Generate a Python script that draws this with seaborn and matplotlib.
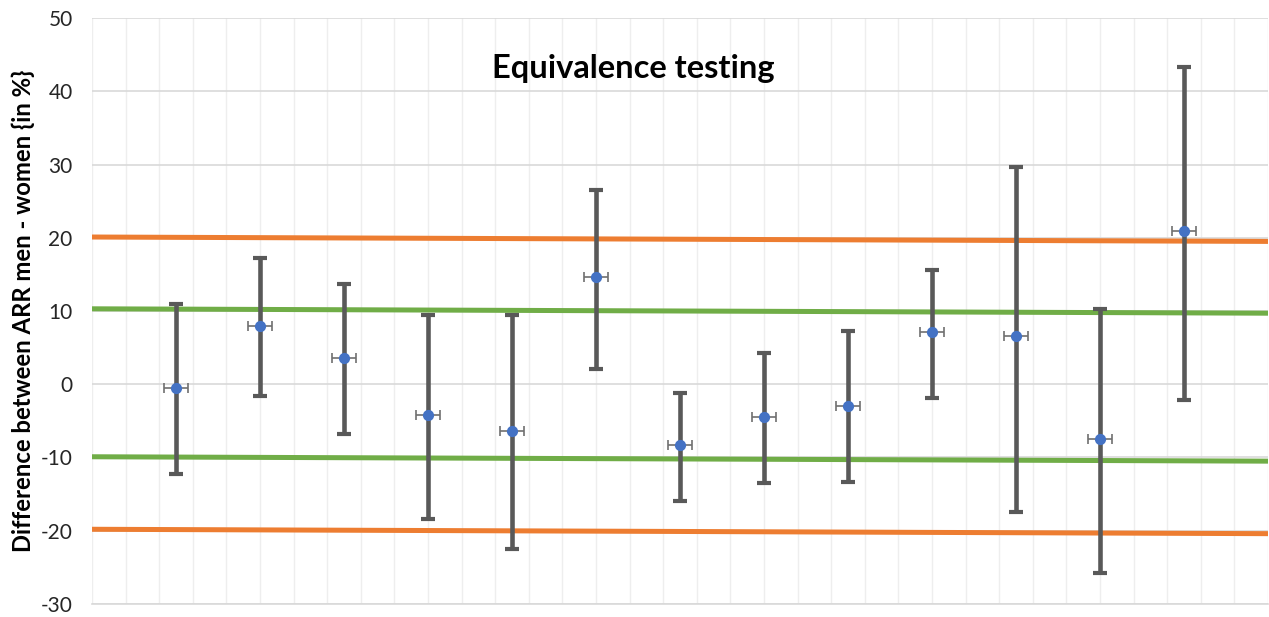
import matplotlib
matplotlib.use("Agg")
import matplotlib.pyplot as plt
import seaborn as sns
import numpy as np
import pandas as pd

# ---- data ----
positions = [2.5, 5, 7.5, 10, 12.5, 15, 17.5, 20, 22.5, 25, 27.5, 30, 32.5]
estimates = [-0.5, 8.0, 3.6, -4.2, -6.4, 14.6, -8.3, -4.5, -3.0, 7.1, 6.6, -7.5, 20.9]
ci_upper = [10.9, 17.3, 13.7, 9.5, 9.5, 26.5, -1.2, 4.3, 7.3, 15.6, 29.7, 10.3, 43.3]
ci_lower = [-12.2, -1.6, -6.8, -18.4, -22.5, 2.1, -15.9, -13.5, -13.3, -1.9, -17.4, -25.8, -2.1]
x_err = [0.35] * 13

margin_x = [0, 35]
outer_upper = [20.1, 19.5]
outer_lower = [-19.8, -20.4]
inner_upper = [10.3, 9.7]
inner_lower = [-9.9, -10.5]

yticks = [-30, -20, -10, 0, 10, 20, 30, 40, 50]

sns.set_theme(style="white")
plt.rcParams['font.family'] = ['Lato', 'DejaVu Sans']
plt.rcParams['axes.unicode_minus'] = False

fig = plt.figure(figsize=(12.69, 6.17), dpi=100)
ax = fig.add_axes([0.0725, 0.0211, 0.9267, 0.9497])

df = pd.DataFrame({"x": positions, "y": estimates,
                   "lo": ci_lower, "hi": ci_upper})

# gridlines
ax.set_xlim(0, 35)
ax.set_ylim(-30, 50)
ax.set_xticks(np.arange(0, 36, 1))
ax.set_yticks(yticks)
ax.xaxis.grid(True, color="#eeeeee", linewidth=1.0)
ax.yaxis.grid(True, color="#d9d9d9", linewidth=1.2)
ax.set_axisbelow(True)

# margin lines
lines = pd.DataFrame({"x": margin_x * 4,
                      "y": outer_upper + outer_lower + inner_upper + inner_lower,
                      "g": ["ou"] * 2 + ["ol"] * 2 + ["iu"] * 2 + ["il"] * 2})
sns.lineplot(data=lines, x="x", y="y", hue="g",
             palette={"ou": "#ED7D31", "ol": "#ED7D31", "iu": "#70AD47", "il": "#70AD47"},
             linewidth=3.6, legend=False, ax=ax, zorder=2)

# vertical CI bars
yerr = np.array([df["y"] - df["lo"], df["hi"] - df["y"]])
ax.errorbar(df["x"], df["y"], yerr=yerr, fmt="none", ecolor="#595959",
            elinewidth=3.3, capsize=5, capthick=3.0, zorder=3)
# small horizontal bars
ax.errorbar(df["x"], df["y"], xerr=x_err, fmt="none", ecolor="#707070",
            elinewidth=1.2, capsize=3.5, capthick=1.2, zorder=4)

sns.scatterplot(data=df, x="x", y="y", color="#4472C4", s=65,
                edgecolor="#4472C4", linewidth=0, zorder=5, ax=ax)

for s in ["left", "right", "top"]:
    ax.spines[s].set_visible(False)
ax.spines["bottom"].set_color("#d9d9d9")
ax.spines["bottom"].set_linewidth(1.2)

ax.tick_params(axis="x", length=0, labelbottom=False)
ax.tick_params(axis="y", length=0, labelsize=15, colors="#262626", pad=14)
ax.set_xlabel("")
ax.set_ylabel("Difference between ARR men - women {in %}", fontsize=17.2,
              fontweight="bold", color="#000000", labelpad=4)

ax.text(0.46, 0.913, "Equivalence testing", transform=ax.transAxes,
        ha="center", va="center", fontsize=23.5, fontweight="bold", color="#000000")

fig.savefig("out.png", dpi=100)
